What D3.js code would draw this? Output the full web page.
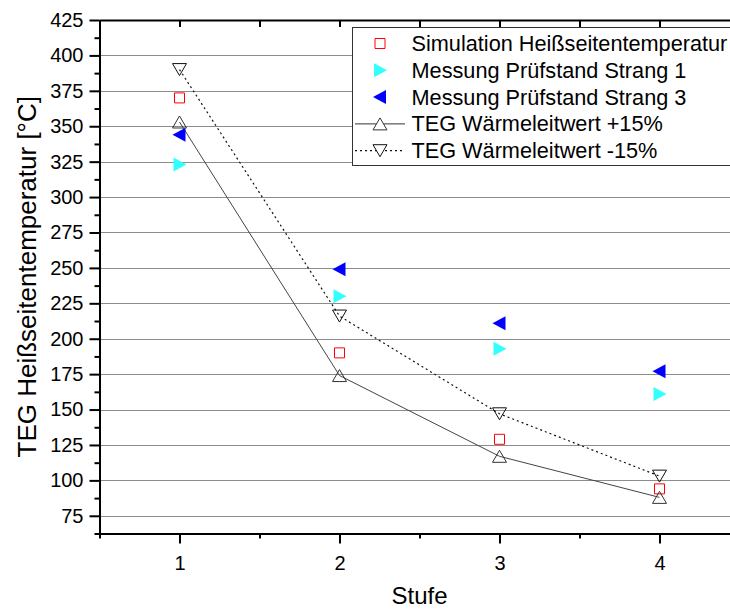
<!DOCTYPE html>
<html>
<head>
<meta charset="utf-8">
<script src="https://cdn.jsdelivr.net/npm/d3@7"></script>
<style>
    body { margin: 0; background: #fff; }
    svg { display: block; font-family: "Liberation Sans", Arial, sans-serif; }
</style>
</head>
<body>
<div id="chart"></div>
<script>
const stufe = [1, 2, 3, 4];
const simulation = [370, 190, 129, 94];
const strang1 = [323, 230, 193, 161];
const strang3 = [344, 249, 211, 177];
const plus15 = [353, 174, 117, 88];
const minus15 = [390, 216, 147, 103];

const yTicks = [75, 100, 125, 150, 175, 200, 225, 250, 275, 300, 325, 350, 375, 400, 425];
const yMinor = [62.5, 87.5, 112.5, 137.5, 162.5, 187.5, 212.5, 237.5, 262.5, 287.5, 312.5, 337.5, 362.5, 387.5, 412.5];
const xTicks = [1, 2, 3, 4];
const xMinor = [0.5, 1.5, 2.5, 3.5, 4.5];

const legendLabels = [
    "Simulation Heißseitentemperatur",
    "Messung Prüfstand Strang 1",
    "Messung Prüfstand Strang 3",
    "TEG Wärmeleitwert +15%",
    "TEG Wärmeleitwert -15%"
];

const width = 730;
const height = 610;
const margin = { top: 20, left: 99.5, bottom: 533.5, right: 739.5 };

const svg = d3.select("#chart")
    .append("svg")
    .attr("width", width)
    .attr("height", height);

const x = d3.scaleLinear().domain([0.5, 4.5]).range([margin.left, margin.right]);
const y = d3.scaleLinear().domain([62.5, 425]).range([margin.bottom, margin.top]);

// marker shapes centred on their bounding box
function marker(type) {
    if (type === "square") return "M-5,-5H5V5H-5Z";
    if (type === "up") return "M0,-6L7,6H-7Z";
    if (type === "down") return "M0,6L7,-6H-7Z";
    if (type === "right") return "M-6,-7L7,0L-6,7Z";
    if (type === "left") return "M6,-7L-7,0L6,7Z";
}

// gridlines
svg.append("g")
    .selectAll("line")
    .data(yTicks.slice(0, -1))
    .join("line")
    .attr("x1", margin.left)
    .attr("x2", width)
    .attr("y1", (d) => Math.round(y(d)) + 0.5)
    .attr("y2", (d) => Math.round(y(d)) + 0.5)
    .attr("stroke", "#8c8c8c")
    .attr("stroke-width", 1);

// lines
const line = (vals) => d3.line()
    .x((d, i) => x(stufe[i]))
    .y((d) => y(d))(vals);

svg.append("path")
    .attr("d", line(plus15))
    .attr("fill", "none")
    .attr("stroke", "#444")
    .attr("stroke-width", 1);

svg.append("path")
    .attr("d", line(minus15))
    .attr("fill", "none")
    .attr("stroke", "#111")
    .attr("stroke-width", 1.2)
    .attr("stroke-dasharray", "2,3");

// markers
const series = [
    { vals: simulation, type: "square", fill: "none", stroke: "#ff0000" },
    { vals: strang1, type: "right", fill: "#33ffff", stroke: "none" },
    { vals: strang3, type: "left", fill: "#0000ff", stroke: "none" },
    { vals: plus15, type: "up", fill: "none", stroke: "#333" },
    { vals: minus15, type: "down", fill: "none", stroke: "#111" }
];

for (const s of series) {
    svg.append("g")
        .selectAll("path")
        .data(s.vals)
        .join("path")
        .attr("transform", (d, i) => `translate(${x(stufe[i])},${y(d)})`)
        .attr("d", marker(s.type))
        .attr("fill", s.fill)
        .attr("stroke", s.stroke)
        .attr("stroke-width", 1);
}

// axes
const styleAxis = (g) => {
    g.selectAll(".domain").attr("stroke", "#000").attr("stroke-width", 2);
    g.selectAll(".tick line").attr("stroke", "#000").attr("stroke-width", 2);
    g.selectAll("text").attr("fill", "#000").attr("font-size", 20)
        .attr("font-family", "Liberation Sans, Arial, sans-serif");
};

svg.append("g")
    .attr("transform", `translate(${margin.left},0)`)
    .call(d3.axisLeft(y).tickValues(yMinor).tickSize(5).tickFormat("").tickSizeOuter(0))
    .call(styleAxis);

svg.append("g")
    .attr("transform", `translate(${margin.left},0)`)
    .call(d3.axisLeft(y).tickValues(yTicks).tickSize(10).tickPadding(6).tickSizeOuter(0))
    .call(styleAxis);

svg.append("g")
    .attr("transform", `translate(0,${margin.bottom})`)
    .call(d3.axisBottom(x).tickValues(xMinor).tickSize(5).tickFormat("").tickSizeOuter(0))
    .call(styleAxis);

svg.append("g")
    .attr("transform", `translate(0,${margin.bottom})`)
    .call(d3.axisBottom(x).tickValues(xTicks).tickFormat(d3.format("d")).tickSize(10).tickPadding(12).tickSizeOuter(0))
    .call(styleAxis);

// top frame with inward ticks
svg.append("g")
    .attr("transform", `translate(0,${margin.top})`)
    .call(d3.axisBottom(x).tickValues(xTicks.concat(xMinor)).tickSize(7).tickFormat("").tickSizeOuter(0))
    .call(styleAxis);

// axis titles
svg.append("text")
    .attr("transform", `translate(36,${(margin.top + margin.bottom) / 2}) rotate(-90)`)
    .attr("text-anchor", "middle")
    .attr("font-size", 26)
    .attr("fill", "#000")
    .text("TEG Heißseitentemperatur [°C]");

svg.append("text")
    .attr("x", (margin.left + margin.right) / 2)
    .attr("y", 604)
    .attr("text-anchor", "middle")
    .attr("font-size", 24)
    .attr("fill", "#000")
    .text("Stufe");

// legend
const legend = svg.append("g");

legend.append("rect")
    .attr("x", 352.5)
    .attr("y", 27.5)
    .attr("width", 400)
    .attr("height", 138)
    .attr("fill", "#fff")
    .attr("stroke", "#333")
    .attr("stroke-width", 1);

const items = legend.selectAll("g.item")
    .data(series)
    .join("g")
    .attr("class", "item")
    .attr("transform", (d, i) => `translate(380,${51 + i * 26.8})`);

items.filter((d) => d.type === "up" || d.type === "down")
    .append("line")
    .attr("x1", -25)
    .attr("x2", 25)
    .attr("y1", -7.5)
    .attr("y2", -7.5)
    .attr("stroke", (d) => d.stroke)
    .attr("stroke-width", (d) => (d.type === "down" ? 1.2 : 1))
    .attr("stroke-dasharray", (d) => (d.type === "down" ? "2,3" : null));

items.append("path")
    .attr("transform", "translate(0,-7.5)")
    .attr("d", (d) => marker(d.type))
    .attr("fill", (d) => (d.fill === "none" ? "#fff" : d.fill))
    .attr("stroke", (d) => d.stroke)
    .attr("stroke-width", 1);

items.append("text")
    .attr("x", 31.5)
    .attr("y", 0)
    .attr("font-size", 21.7)
    .attr("fill", "#000")
    .text((d, i) => legendLabels[i]);
</script>
</body>
</html>
